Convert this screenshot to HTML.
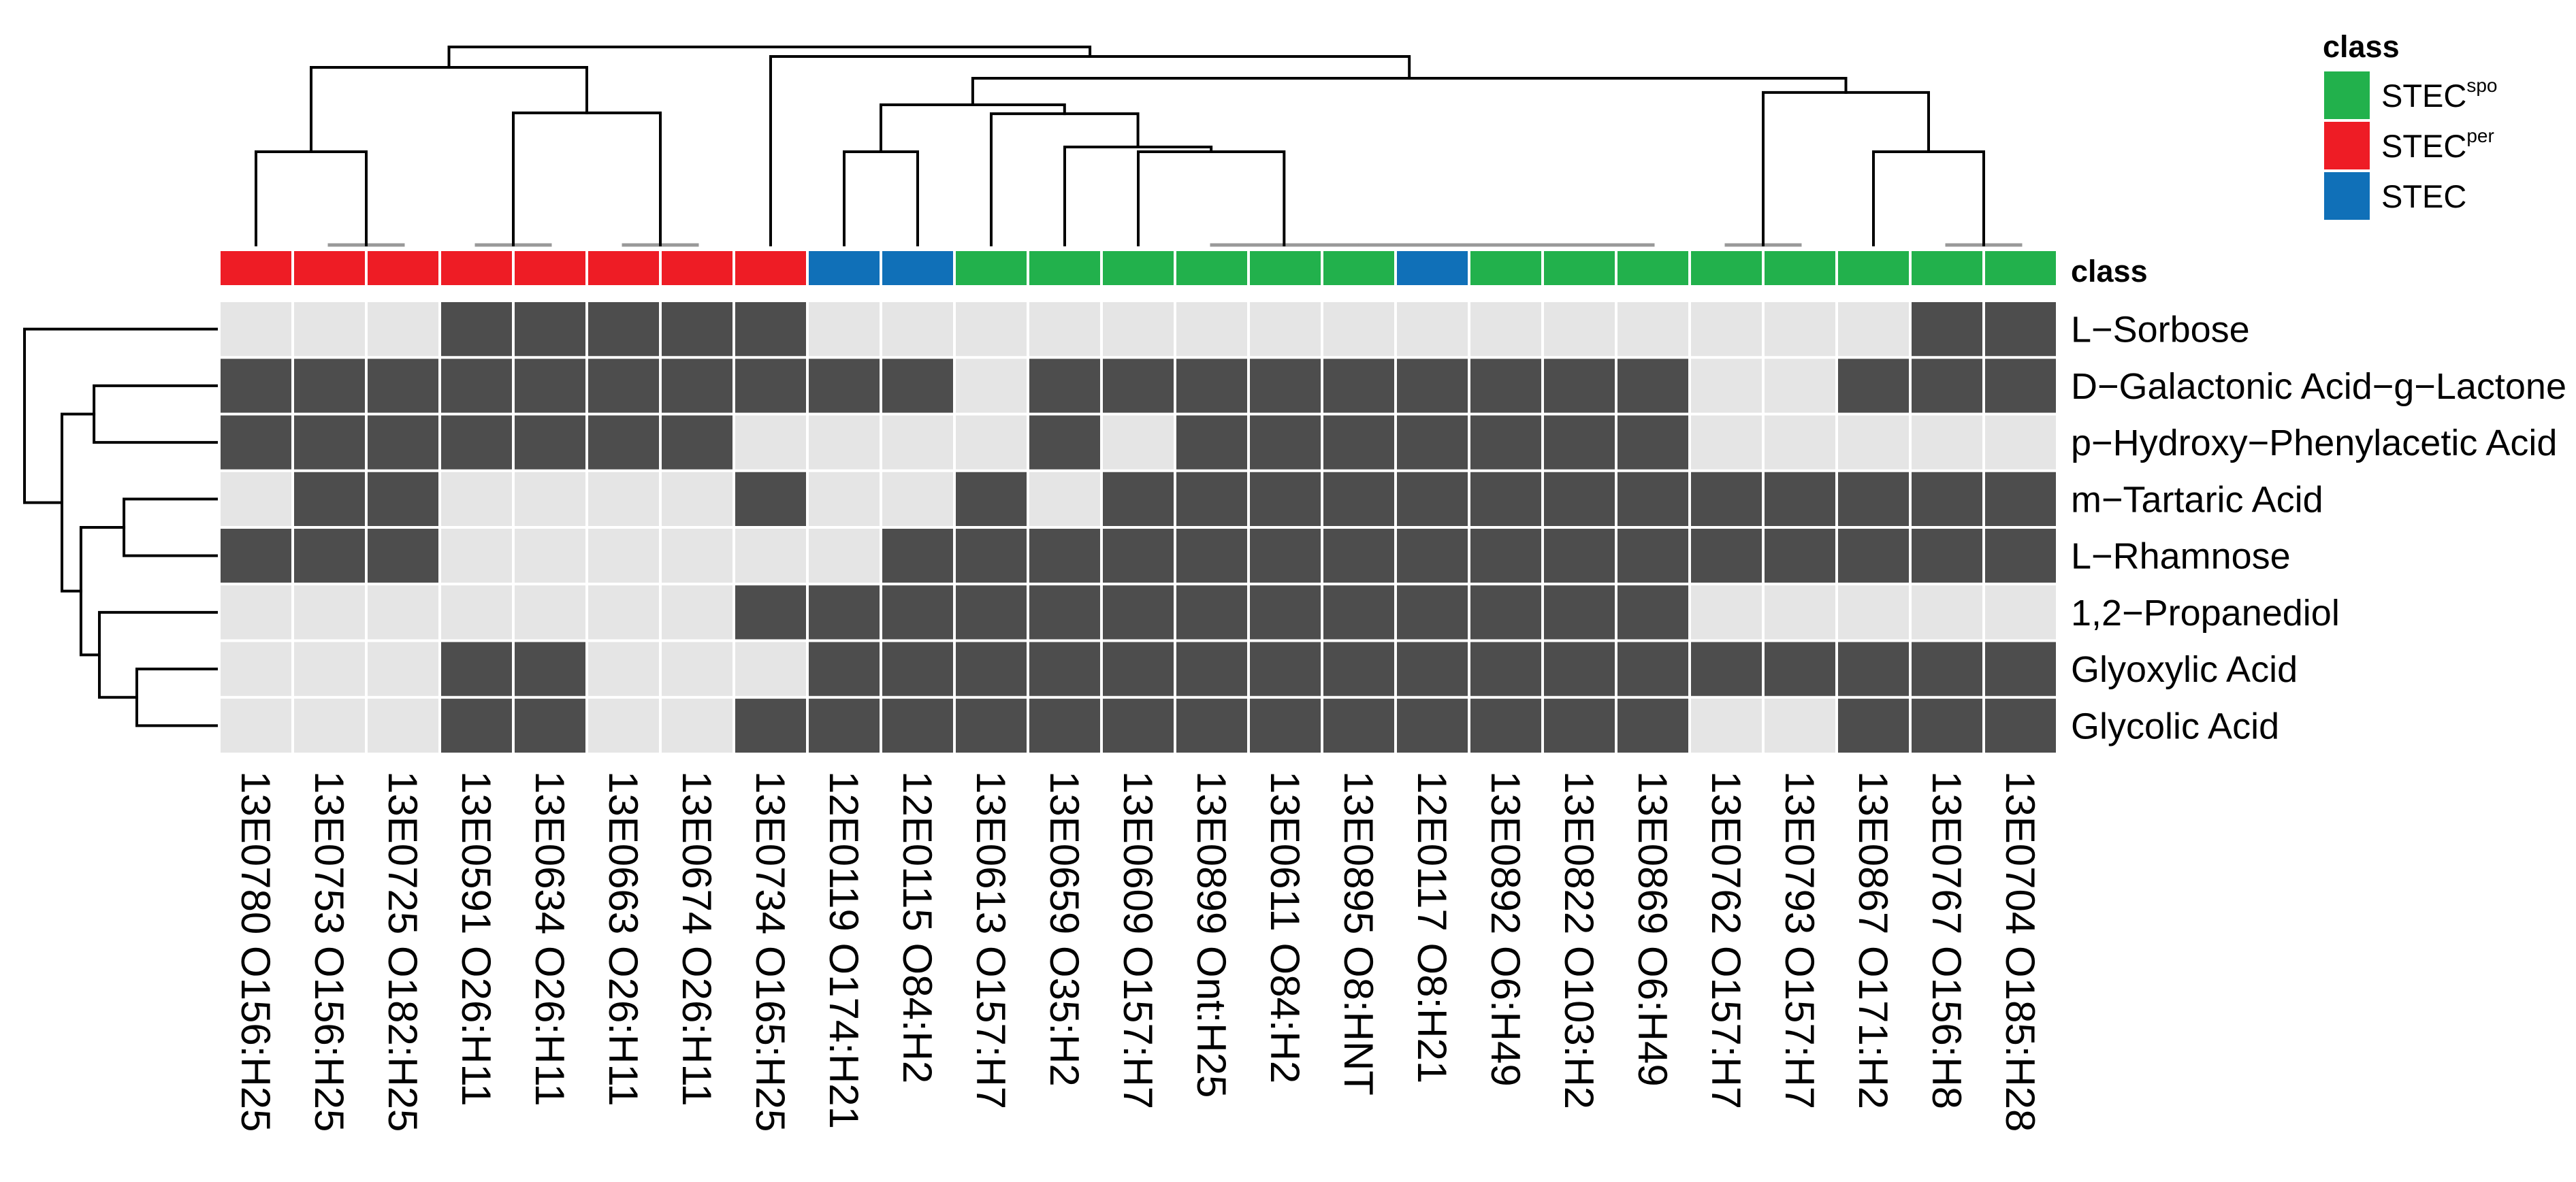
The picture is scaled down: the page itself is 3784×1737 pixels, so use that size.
<!DOCTYPE html>
<html><head><meta charset="utf-8">
<style>
html,body{margin:0;padding:0;background:#fff;}
svg{display:block;font-family:"Liberation Sans",Arial,sans-serif;}
</style></head>
<body>
<svg id="chart" width="3784" height="1737" viewBox="0 0 3784 1737" xmlns="http://www.w3.org/2000/svg">
  <g id="coldendro"></g>
  <g id="rowdendro"></g>
  <g id="classbar"></g>
  <g id="cells"></g>
  <g id="rowlabels"></g>
  <g id="collabels"></g>
  <text x="3042" y="414" font-size="45" font-weight="bold" fill="#000">class</text>
  <g>
    <text x="3412" y="84" font-size="45" font-weight="bold" fill="#000">class</text>
    <rect x="3414" y="105" width="67" height="70" fill="#22B14C"/>
    <rect x="3414" y="179" width="67" height="70" fill="#EE1C25"/>
    <rect x="3414" y="253" width="67" height="70" fill="#1070B8"/>
    <text x="3498" y="157" font-size="47" fill="#000">STEC<tspan font-size="28" dy="-22">spo</tspan></text>
    <text x="3498" y="231" font-size="47" fill="#000">STEC<tspan font-size="28" dy="-22">per</tspan></text>
    <text x="3498" y="305" font-size="47" fill="#000">STEC</text>
  </g>
</svg>
<script>
const colLabels = ["13E0780 O156:H25","13E0753 O156:H25","13E0725 O182:H25","13E0591 O26:H11","13E0634 O26:H11","13E0663 O26:H11","13E0674 O26:H11","13E0734 O165:H25","12E0119 O174:H21","12E0115 O84:H2","13E0613 O157:H7","13E0659 O35:H2","13E0609 O157:H7","13E0899 Ont:H25","13E0611 O84:H2","13E0895 O8:HNT","12E0117 O8:H21","13E0892 O6:H49","13E0822 O103:H2","13E0869 O6:H49","13E0762 O157:H7","13E0793 O157:H7","13E0867 O171:H2","13E0767 O156:H8","13E0704 O185:H28"];
const colClass = ["per","per","per","per","per","per","per","per","stec","stec","spo","spo","spo","spo","spo","spo","stec","spo","spo","spo","spo","spo","spo","spo","spo"];
const rowLabels = ["L\u2212Sorbose","D\u2212Galactonic Acid\u2212g\u2212Lactone","p\u2212Hydroxy\u2212Phenylacetic Acid","m\u2212Tartaric Acid","L\u2212Rhamnose","1,2\u2212Propanediol","Glyoxylic Acid","Glycolic Acid"];
const rowL_Sorbose   = [0,0,0,1,1,1,1,1,0,0,0,0,0,0,0,0,0,0,0,0,0,0,0,1,1];
const rowD_Galact    = [1,1,1,1,1,1,1,1,1,1,0,1,1,1,1,1,1,1,1,1,0,0,1,1,1];
const rowP_Hydroxy   = [1,1,1,1,1,1,1,0,0,0,0,1,0,1,1,1,1,1,1,1,0,0,0,0,0];
const rowM_Tartaric  = [0,1,1,0,0,0,0,1,0,0,1,0,1,1,1,1,1,1,1,1,1,1,1,1,1];
const rowL_Rhamnose  = [1,1,1,0,0,0,0,0,0,1,1,1,1,1,1,1,1,1,1,1,1,1,1,1,1];
const rowPropanediol = [0,0,0,0,0,0,0,1,1,1,1,1,1,1,1,1,1,1,1,1,0,0,0,0,0];
const rowGlyoxylic   = [0,0,0,1,1,0,0,0,1,1,1,1,1,1,1,1,1,1,1,1,1,1,1,1,1];
const rowGlycolic    = [0,0,0,1,1,0,0,1,1,1,1,1,1,1,1,1,1,1,1,1,0,0,1,1,1];
const matrix = [rowL_Sorbose,rowD_Galact,rowP_Hydroxy,rowM_Tartaric,rowL_Rhamnose,rowPropanediol,rowGlyoxylic,rowGlycolic];
// hclust-style merges: negative = leaf (1-based), positive = earlier merge (1-based); third = height (0..1)
const colMerges = [[-2,-3,0],[-1,1,0.471],[-4,-5,0],[-6,-7,0],[3,4,0.667],[2,5,0.897],[-9,-10,0.471],[-19,-20,0],[-18,8,0],[-17,9,0],[-16,10,0],[-15,11,0],[-14,12,0],[-13,13,0.471],[-12,14,0.495],[-11,15,0.663],[7,16,0.708],[-21,-22,0],[-24,-25,0],[-23,19,0.471],[18,20,0.770],[17,21,0.842],[-8,22,0.952],[6,23,1.0]];
const rowMerges = [[-2,-3,0.638],[-4,-5,0.482],[-7,-8,0.415],[-6,3,0.610],[2,4,0.706],[1,5,0.805],[-1,6,1.0]];
const classColors = {per:"#EE1C25", stec:"#1070B8", spo:"#22B14C"};

const NS="http://www.w3.org/2000/svg";
const X0=322, CW=108, Y0=442, RH=83.25, GAP=4;
const colX = i => X0 + CW*i;
const colC = i => X0 + CW*(i+0.5);
const rowY = j => Y0 + RH*j;
const rowC = j => Y0 + RH*(j+0.5);
const colH = h => 360 - h*291;
const rowH = h => 318 - h*282;
function mk(tag, attrs, parent){const e=document.createElementNS(NS,tag);for(const k in attrs)e.setAttribute(k,attrs[k]);parent.appendChild(e);return e;}

// class bar
const cb=document.getElementById('classbar');
colClass.forEach((c,i)=>{
  const r=mk('rect',{x:colX(i)+GAP/2,y:369,width:CW-GAP,height:50,fill:classColors[c]},cb);
  
  
});
// cells
const cg=document.getElementById('cells');
matrix.forEach((row,j)=>row.forEach((v,i)=>{
  const r=mk('rect',{x:colX(i)+GAP/2,y:rowY(j)+GAP/2,width:CW-GAP,height:RH-GAP,fill:v?"#4D4D4D":"#E5E5E5"},cg);
  
  
}));
// row labels
const rl=document.getElementById('rowlabels');
rowLabels.forEach((t,j)=>{
  const e=mk('text',{x:3042,y:rowC(j)+19,'font-size':54,fill:'#000'},rl);
  e.textContent=t;
  
  
});
// column labels
const cl=document.getElementById('collabels');
colLabels.forEach((t,i)=>{
  const x=colC(i)-21, y=1133;
  const e=mk('text',{x:x,y:y,'font-size':60,fill:'#000',transform:`rotate(90 ${x} ${y})`},cl);
  e.textContent=t;
  
  
});
// dendrograms
function drawDendro(merges, leafPos, hPos, g, vertical){
  const pos=[], ht=[];
  const get = k => k<0 ? [leafPos(-k-1), hPos(0)] : [pos[k-1], ht[k-1]];
  merges.forEach((m,idx)=>{
    const a=get(m[0]), b=get(m[1]), h=hPos(m[2]);
    const p=(a[0]+b[0])/2;
    pos.push(p); ht.push(h);
    const zero = m[2]===0;
    const col = zero ? "#999999" : "#000";
    const sw = zero ? 5 : 4;
    let d;
    if(vertical){ // column dendrogram: x=pos, y=height
      d=`M${a[0]},${a[1]}V${h}H${b[0]}V${b[1]}`;
    } else {
      d=`M${a[1]},${a[0]}H${h}V${b[0]}H${b[1]}`;
    }
    const e=mk('path',{d:d,fill:'none',stroke:col,'stroke-width':sw,'stroke-linecap':'square'},g);
    
    
  });
}
drawDendro(colMerges, colC, colH, document.getElementById('coldendro'), true);
drawDendro(rowMerges, rowC, rowH, document.getElementById('rowdendro'), false);
</script>
</body></html>
